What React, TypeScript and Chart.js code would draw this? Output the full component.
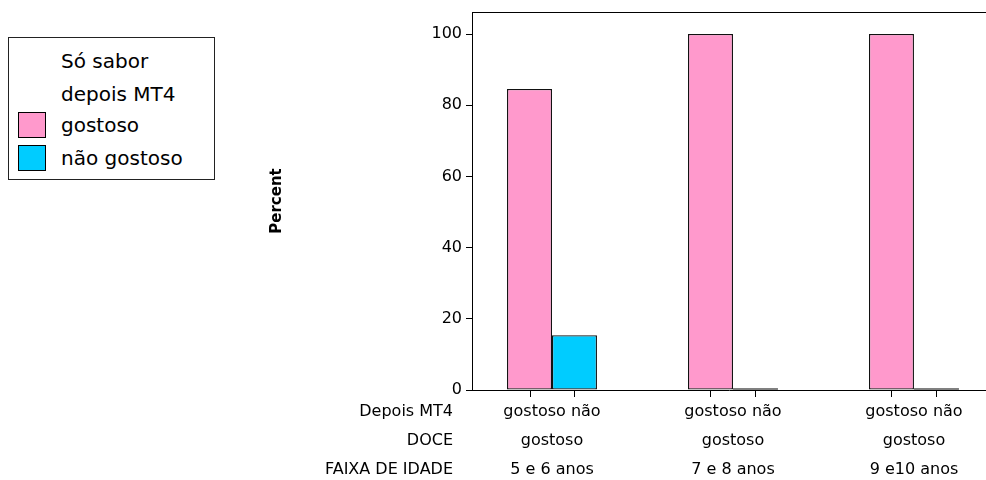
import React, { useEffect, useRef } from "react";
import { Chart, registerables } from "chart.js";

Chart.register(...registerables);

// ---- data ----
const ageGroups = ["5 e 6 anos", "7 e 8 anos", "9 e10 anos"];
const innerLabelLines = ["gostoso não", "gostoso"];
const axisRowLabels = ["Depois MT4", "DOCE", "FAIXA DE IDADE"];
const seriesNames = ["gostoso", "não gostoso"];
const gostosoValues = [84.6, 100, 100];
const naoGostosoValues = [15.4, 0, 0];
const yTicks = [0, 20, 40, 60, 80, 100];
const legendTitle = ["Só sabor", "depois MT4"];
const yTitle = "Percent";

const seriesColors = ["#FF99CC", "#00CCFF"];
const FONT = "'DejaVu Sans', sans-serif";
const TICK_SIZE = 16;
const TICK_LH = 29;
const TICK_PAD = 7;

const extrasPlugin = {
  id: "extras",
  afterDraw(chart: any) {
    const { ctx, chartArea } = chart;
    ctx.save();
    // top frame line
    ctx.strokeStyle = "#000";
    ctx.lineWidth = 1;
    ctx.beginPath();
    ctx.moveTo(chartArea.left, Math.round(chartArea.top) + 0.5);
    ctx.lineTo(chartArea.right, Math.round(chartArea.top) + 0.5);
    ctx.stroke();
    // tick marks under each bar, zero-bar lines
    chart.data.datasets.forEach((ds: any, di: number) => {
      const meta = chart.getDatasetMeta(di);
      meta.data.forEach((bar: any, i: number) => {
        const xb = Math.round(bar.x) + 0.5;
        ctx.strokeStyle = "#000";
        ctx.beginPath();
        ctx.moveTo(xb, chartArea.bottom);
        ctx.lineTo(xb, chartArea.bottom + 7);
        ctx.stroke();
        if (ds.data[i].y === 0) {
          ctx.strokeStyle = "#808080";
          ctx.lineWidth = 2;
          ctx.beginPath();
          ctx.moveTo(bar.x - bar.width / 2, chartArea.bottom - 1);
          ctx.lineTo(bar.x + bar.width / 2, chartArea.bottom - 1);
          ctx.stroke();
          ctx.lineWidth = 1;
        }
      });
    });
    // axis row labels at left of x tick labels
    const xs = chart.scales.x;
    ctx.fillStyle = "#000";
    ctx.font = `${TICK_SIZE}px ${FONT}`;
    ctx.textAlign = "right";
    ctx.textBaseline = "middle";
    axisRowLabels.forEach((t, i) => {
      ctx.fillText(t, chartArea.left - 19, xs.top + TICK_PAD + TICK_LH * (i + 0.5));
    });
    ctx.restore();
  },
};

export default function App() {
  const ref = useRef<HTMLCanvasElement | null>(null);

  useEffect(() => {
    if (!ref.current) return;
    const chart = new Chart(ref.current, {
      type: "bar",
      data: {
        datasets: [
          {
            label: seriesNames[0],
            data: gostosoValues.map((v, i) => ({ x: i + 1, y: v })),
            backgroundColor: seriesColors[0],
            borderColor: "#111",
            borderWidth: 1.3,
            borderSkipped: false,
          },
          {
            label: seriesNames[1],
            data: naoGostosoValues.map((v, i) => ({ x: i + 1, y: v })),
            backgroundColor: seriesColors[1],
            borderColor: "#111",
            borderWidth: 1.3,
            borderSkipped: false,
          },
        ],
      },
      options: {
        animation: false,
        responsive: true,
        maintainAspectRatio: false,
        categoryPercentage: 0.497,
        barPercentage: 1,
        layout: { padding: { top: 12, left: 0, right: 0, bottom: 0 } },
        plugins: { legend: { display: false }, tooltip: { enabled: false } },
        scales: {
          x: {
            type: "linear",
            offset: false,
            min: 0.558,
            max: 3.398,
            afterBuildTicks: (s: any) => {
              s.ticks = ageGroups.map((_, i) => ({ value: i + 1 }));
            },
            afterFit: (s: any) => {
              s.height = 90;
              s.paddingLeft = 0;
              s.paddingRight = 0;
            },
            grid: { display: false, drawTicks: false, tickLength: 0 },
            border: { display: true, color: "#000", width: 1 },
            ticks: {
              autoSkip: false,
              maxRotation: 0,
              padding: TICK_PAD,
              color: "#000",
              font: { family: FONT, size: TICK_SIZE, lineHeight: TICK_LH / TICK_SIZE },
              callback: (_v: any, i: number) => [...innerLabelLines, ageGroups[i]],
            },
          },
          y: {
            min: 0,
            max: 106.2,
            afterBuildTicks: (s: any) => {
              s.ticks = yTicks.map((v) => ({ value: v }));
            },
            afterFit: (s: any) => {
              s.width = 472;
              s.paddingTop = 0;
              s.paddingBottom = 0;
            },
            grid: { display: true, drawOnChartArea: false, drawTicks: true, tickLength: 6, color: "#000" },
            border: { display: true, color: "#000", width: 1 },
            ticks: {
              padding: 4,
              color: "#000",
              font: { family: FONT, size: TICK_SIZE },
            },
            title: {
              display: true,
              text: yTitle,
              color: "#000",
              font: { family: FONT, size: 15, weight: "bold" },
              padding: { top: 268, bottom: 0 },
            },
          },
        },
      },
      plugins: [extrasPlugin],
    } as any);
    return () => chart.destroy();
  }, []);

  const lineStyle = (center: number): React.CSSProperties => ({
    position: "absolute",
    left: 52,
    top: center - 12,
    height: 24,
    lineHeight: "24px",
    whiteSpace: "nowrap",
  });

  return (
    <div style={{ position: "absolute", left: 0, top: 0, width: 986, height: 480, background: "#fff" }}>
      <canvas ref={ref} />
      <div
        style={{
          position: "absolute",
          left: 8,
          top: 37,
          width: 205,
          height: 141,
          border: "1px solid #222",
          fontFamily: FONT,
          fontSize: 20,
          color: "#000",
          background: "#fff",
        }}
      >
        <div style={lineStyle(23)}>{legendTitle[0]}</div>
        <div style={lineStyle(56)}>{legendTitle[1]}</div>
        {seriesNames.map((n, i) => {
          const c = i === 0 ? 87 : 120;
          return (
            <React.Fragment key={n}>
              <div
                style={{
                  position: "absolute",
                  left: 9,
                  top: c - 13,
                  width: 26,
                  height: 24,
                  border: "1px solid #000",
                  background: seriesColors[i],
                }}
              />
              <div style={lineStyle(c)}>{n}</div>
            </React.Fragment>
          );
        })}
      </div>
    </div>
  );
}
